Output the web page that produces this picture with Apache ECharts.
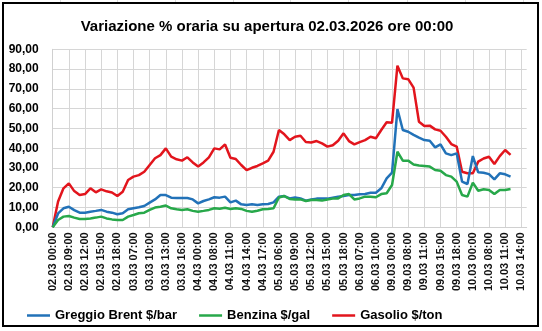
<!DOCTYPE html>
<html>
<head>
<meta charset="utf-8">
<script src="https://cdn.jsdelivr.net/npm/echarts@6/dist/echarts.min.js"></script>
<style>
  html, body { margin: 0; padding: 0; background: #ffffff; }
  #chart { width: 542px; height: 331px; }
</style>
</head>
<body>
<div id="chart"></div>
<script>
// Timestamps (dd.mm hh:mm), hourly quotes while markets are open
const categories = [
  '02.03 00:00','02.03 07:00','02.03 08:00','02.03 09:00','02.03 10:00','02.03 11:00',
  '02.03 12:00','02.03 13:00','02.03 14:00','02.03 15:00','02.03 16:00','02.03 17:00',
  '02.03 18:00','02.03 19:00','03.03 06:00','03.03 07:00','03.03 08:00','03.03 09:00',
  '03.03 10:00','03.03 11:00','03.03 12:00','03.03 13:00','03.03 14:00','03.03 15:00',
  '03.03 16:00','03.03 17:00','03.03 18:00','04.03 00:00','04.03 06:00','04.03 07:00',
  '04.03 08:00','04.03 09:00','04.03 10:00','04.03 11:00','04.03 12:00','04.03 13:00',
  '04.03 14:00','04.03 15:00','04.03 16:00','04.03 17:00','04.03 18:00','05.03 00:00',
  '05.03 06:00','05.03 07:00','05.03 08:00','05.03 09:00','05.03 10:00','05.03 11:00',
  '05.03 12:00','05.03 13:00','05.03 14:00','05.03 15:00','05.03 16:00','05.03 17:00',
  '05.03 18:00','05.03 19:00','06.03 06:00','06.03 07:00','06.03 08:00','06.03 09:00',
  '06.03 10:00','06.03 11:00','06.03 12:00','09.03 00:00','09.03 01:00','09.03 07:00',
  '09.03 08:00','09.03 09:00','09.03 10:00','09.03 11:00','09.03 12:00','09.03 14:00',
  '09.03 15:00','09.03 16:00','09.03 17:00','09.03 18:00','09.03 19:00','09.03 20:00',
  '10.03 00:00','10.03 06:00','10.03 07:00','10.03 08:00','10.03 09:00','10.03 10:00',
  '10.03 11:00','10.03 12:00','10.03 13:00','10.03 14:00','10.03 15:00'
];

// Percentage change vs. the 02.03.2026 00:00 opening
const brent = [
  0, 7.0, 9.6, 10.4, 8.7, 7.4, 7.4, 7.9, 8.3, 8.8, 7.9, 7.4, 6.6, 7.1,
  9.1, 9.6, 10.1, 10.8, 12.5, 14.1, 16.3, 16.3, 15.0, 14.8, 14.8, 14.8, 14.1, 12.1,
  13.3, 14.1, 15.2, 15.0, 15.5, 12.6, 13.5, 11.6, 11.3, 11.6, 11.3, 11.6, 11.8, 12.6,
  15.5, 15.8, 14.6, 15.1, 14.6, 13.5, 14.1, 14.5, 14.5, 14.5, 15.0, 15.5, 15.8, 16.3,
  16.3, 16.7, 16.8, 17.5, 17.5, 19.7, 24.7, 27.6,
  59.8, 49.2, 48.3, 46.7, 45.3, 44.1, 43.8, 40.4, 41.9, 37.4, 36.5, 37.4,
  23.1, 21.9, 36.0, 27.8, 27.6, 26.9, 24.2, 27.3, 26.8, 25.6,
  null, null, null
];
const benzina = [
  0, 3.7, 5.4, 5.7, 4.9, 4.2, 4.2, 4.5, 4.9, 5.4, 4.5, 4.0, 3.7, 3.7,
  5.4, 6.2, 7.1, 7.4, 8.8, 10.0, 10.4, 11.0, 9.6, 9.1, 8.8, 9.1, 8.3, 7.9,
  8.3, 8.8, 9.6, 9.4, 9.9, 9.3, 9.6, 9.3, 8.3, 7.9, 8.4, 9.1, 9.3, 9.6,
  15.1, 15.8, 14.3, 14.1, 14.1, 13.3, 13.8, 13.8, 13.5, 14.1, 14.5, 14.6, 16.3, 16.8,
  14.1, 14.6, 15.5, 15.5, 15.2, 16.8, 17.2, 21.4,
  38.2, 33.7, 33.7, 31.8, 31.2, 31.0, 30.7, 29.0, 28.6, 26.4, 25.6, 23.1,
  16.3, 15.5, 22.6, 18.5, 19.2, 18.9, 16.8, 18.9, 18.9, 19.4,
  null, null, null
];
const gasolio = [
  0, 13.0, 19.7, 22.2, 18.3, 16.3, 16.8, 19.7, 17.7, 19.2, 18.2, 17.6, 15.8, 18.0,
  23.9, 25.6, 26.4, 28.1, 31.5, 34.9, 36.5, 39.9, 35.7, 34.4, 33.7, 35.4, 32.8, 30.7,
  32.8, 35.4, 39.9, 39.4, 41.9, 35.2, 34.5, 31.5, 28.9, 30.1, 31.0, 32.3, 33.7, 38.2,
  49.2, 47.0, 44.1, 45.8, 46.3, 43.1, 42.9, 43.6, 42.4, 40.8, 41.5, 43.8, 47.5, 43.6,
  41.9, 43.1, 44.1, 45.8, 45.0, 49.2, 53.1, 52.9,
  81.7, 75.3, 74.9, 70.6, 53.4, 51.2, 51.4, 49.5, 48.8, 45.8, 42.1, 40.8,
  28.1, 27.3, 27.3, 33.2, 34.8, 35.7, 32.0, 36.0, 39.1, 36.6,
  null, null, null
];

const seriesNames = ['Greggio Brent $/bar', 'Benzina $/gal', 'Gasolio $/ton'];
const seriesColors = ['#2272b8', '#27a84a', '#e2151d'];
const titleText = 'Variazione % oraria su apertura 02.03.2026 ore 00:00';

const FONT = '"Liberation Sans", Arial, sans-serif';
const chart = echarts.init(document.getElementById('chart'), null, { renderer: 'canvas' });

const lineSeries = [brent, benzina, gasolio].map((values, k) => ({
  name: seriesNames[k],
  type: 'line',
  data: values,
  showSymbol: false,
  symbol: 'none',
  connectNulls: false,
  lineStyle: { width: 2.5, color: seriesColors[k] },
  itemStyle: { color: seriesColors[k] },
  emphasis: { disabled: true },
  z: k === 2 ? 3 : 4
}));

// faint worksheet cell borders peeking above the chart frame
const cellEdges = [60, 117, 175, 233, 290, 348, 407, 465, 523].map(x => ({
  type: 'line',
  shape: { x1: x + 0.5, y1: 0, x2: x + 0.5, y2: 2 },
  style: { stroke: '#dcdcdc', lineWidth: 1 },
  silent: true
}));

chart.setOption({
  animation: false,
  backgroundColor: '#ffffff',
  textStyle: { fontFamily: FONT },
  title: {
    text: titleText,
    left: 262,
    top: 14,
    textAlign: 'center',
    textStyle: { fontFamily: FONT, fontSize: 15, fontWeight: 'bold', color: '#000' }
  },
  graphic: cellEdges.concat([{
    type: 'rect',
    shape: { x: 3, y: 3, width: 535, height: 323 },
    style: { fill: 'none', stroke: '#000', lineWidth: 2 },
    silent: true,
    z: 100
  }]),
  legend: {
    data: seriesNames,
    top: 304,
    left: 22,
    icon: 'rect',
    itemWidth: 23,
    itemHeight: 2.5,
    itemGap: 22,
    textStyle: { fontFamily: FONT, fontSize: 13, fontWeight: 'bold', color: '#000' }
  },
  grid: { left: 52.7, right: 15.3, top: 49.3, bottom: 103.7, containLabel: false },
  xAxis: {
    type: 'category',
    data: categories,
    boundaryGap: false,
    axisLine: { show: true, lineStyle: { color: '#d0d0d0', width: 1 } },
    axisTick: { show: false, interval: 2 },
    splitLine: { show: true, interval: 2, lineStyle: { color: '#d6d6d6', width: 1 } },
    axisLabel: {
      interval: 2,
      rotate: 90,
      margin: 5,
      fontFamily: FONT,
      fontSize: 11,
      fontWeight: 'bold',
      color: '#111'
    }
  },
  yAxis: {
    type: 'value',
    min: 0,
    max: 90,
    interval: 10,
    axisLine: { show: true, lineStyle: { color: '#d0d0d0' } },
    axisTick: { show: false },
    splitLine: { show: true, lineStyle: { color: '#d6d6d6', width: 1 } },
    axisLabel: {
      margin: 14,
      fontFamily: FONT,
      fontSize: 12,
      fontWeight: 'bold',
      color: '#000',
      formatter: v => v.toFixed(2).replace('.', ',')
    }
  },
  series: lineSeries
});
</script>
</body>
</html>
